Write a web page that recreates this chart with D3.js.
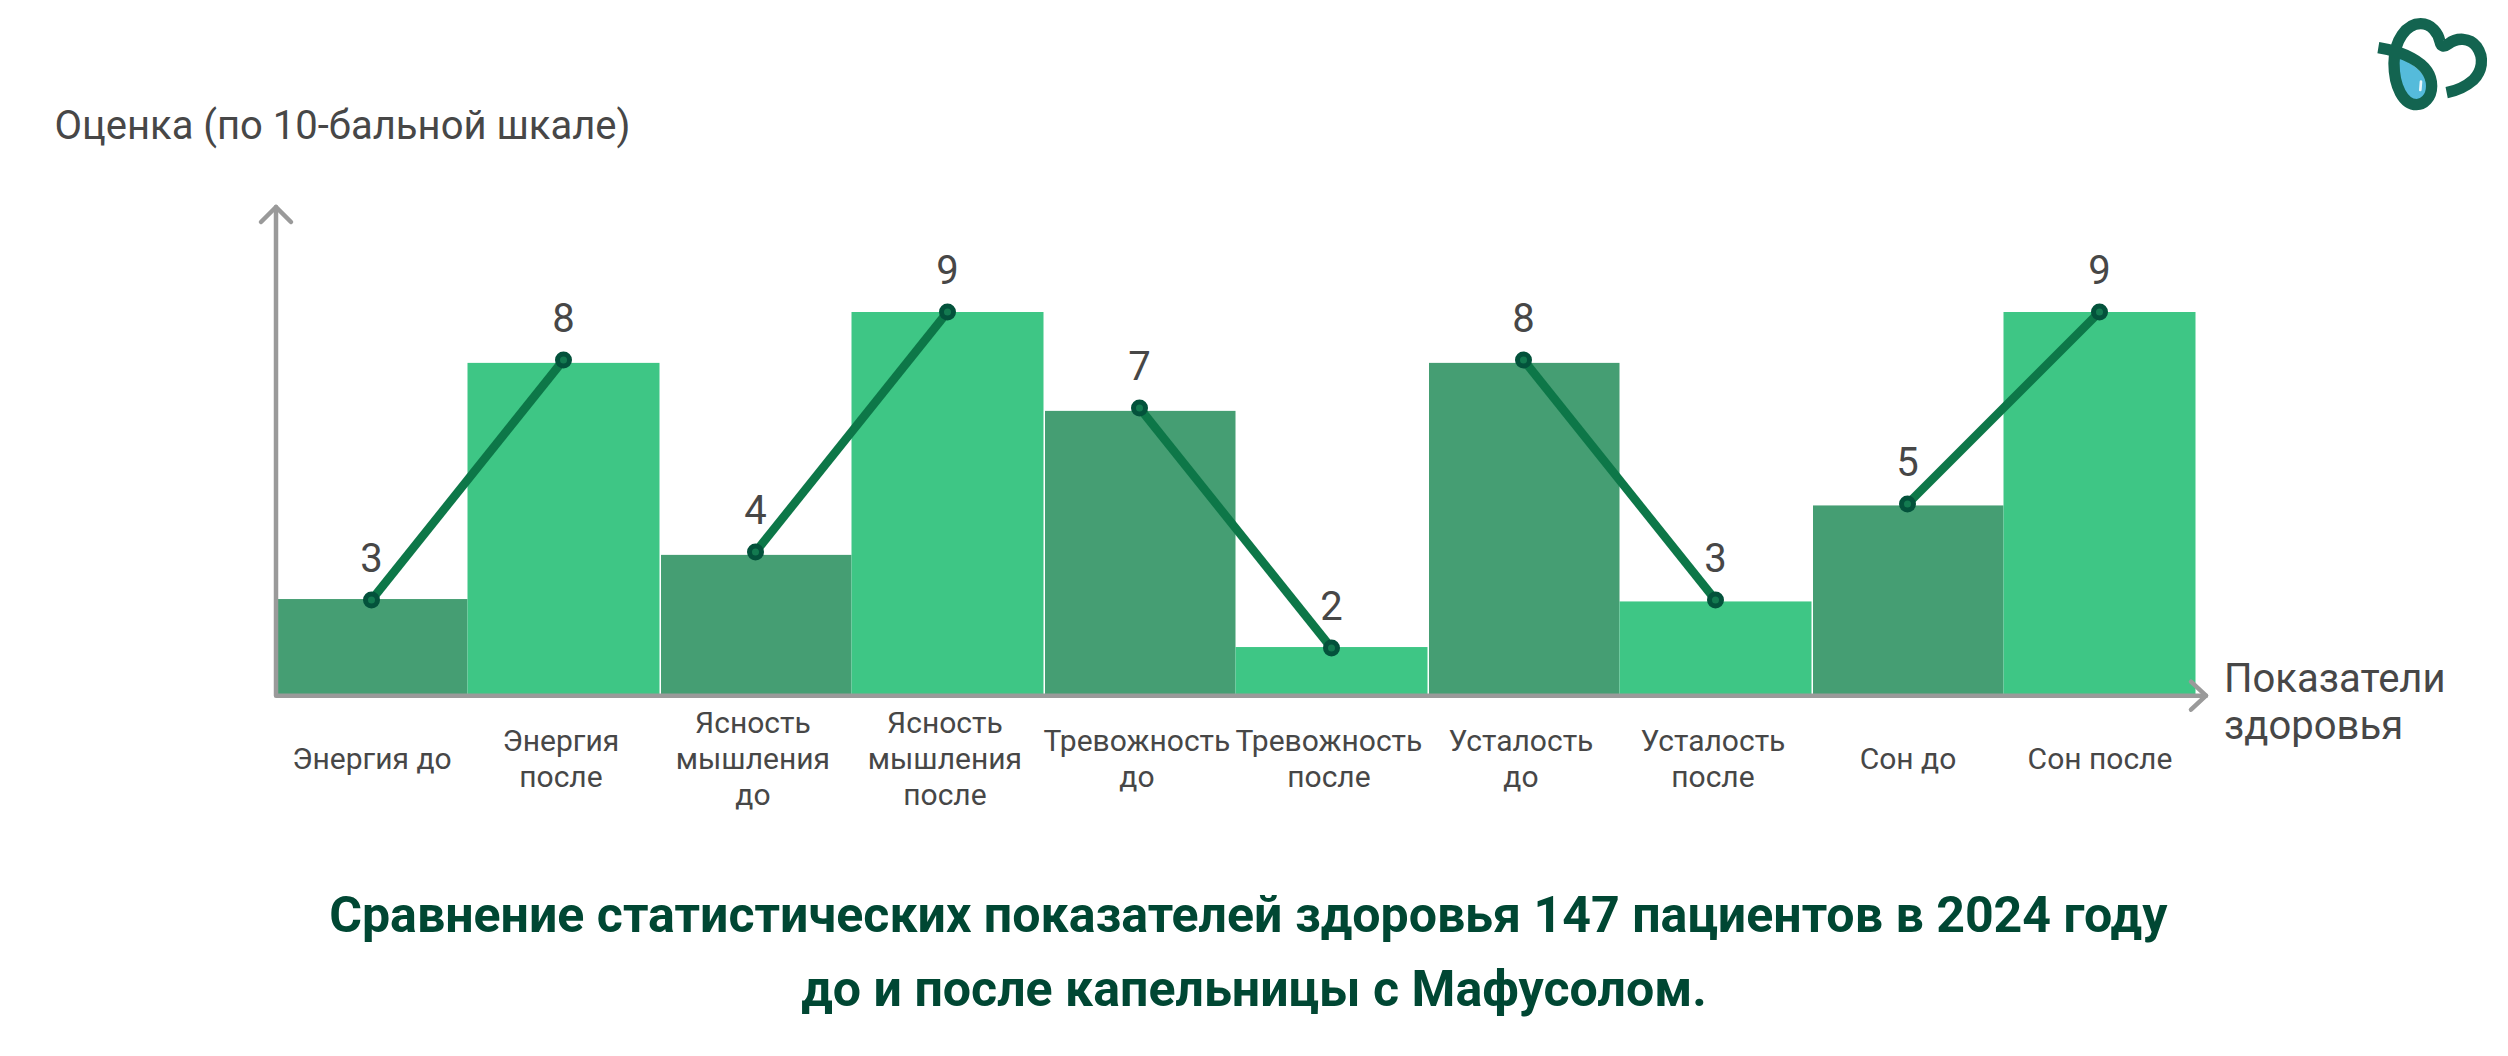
<!DOCTYPE html>
<html lang="ru">
<head>
<meta charset="utf-8">
<script src="https://cdnjs.cloudflare.com/ajax/libs/d3/7.8.5/d3.min.js"></script>
<style>
html,body{margin:0;padding:0;background:#fff;}
svg{display:block;}
text{font-family:Roboto,sans-serif;}
</style>
</head>
<body>
<svg id="c" width="2508" height="1056"></svg>
<script>
const categories = ["Энергия до","Энергия|после","Ясность|мышления|до","Ясность|мышления|после","Тревожность|до","Тревожность|после","Усталость|до","Усталость|после","Сон до","Сон после"];
const scores = [3,8,4,9,7,2,8,3,5,9];
const barTops = [3.02,7.94,3.94,9.0,6.94,2.02,7.94,2.97,4.97,9.0];
const phases = ["до","после","до","после","до","после","до","после","до","после"];
const pairs = [[0,1],[2,3],[4,5],[6,7],[8,9]];
const yAxisTitle = "Оценка (по 10-бальной шкале)";
const xAxisTitle = ["Показатели","здоровья"];
const titleLines = ["Сравнение статистических показателей здоровья 147 пациентов в 2024 году","до и после капельницы с Мафусолом."];

const W = 2508, H = 1056;
const svg = d3.select("#c");
const x = d3.scaleBand().domain(d3.range(categories.length)).range([275.5,2195.5]);
const y = d3.scaleLinear().domain([0,10]).range([744,264]);
const baseY = 694;
const color = d3.scaleOrdinal().domain(["до","после"]).range(["#459e73","#3ec685"]);
const textCol = "#474747", axisCol = "#9a9a9a";

// bars: a thin white gap separates each before/after pair from the next one
svg.append("g").selectAll("rect").data(barTops).join("rect")
  .attr("x",(d,i)=>x(i)+(i>0&&i%2===0?1.5:0))
  .attr("width",(d,i)=>x.bandwidth()-(i>0&&i%2===0?1.5:0))
  .attr("y",d=>y(d))
  .attr("height",d=>baseY-y(d))
  .attr("fill",(d,i)=>color(phases[i]));

// axes
const ax = svg.append("g").attr("fill","none").attr("stroke",axisCol).attr("stroke-width",4.5).attr("stroke-linecap","round").attr("stroke-linejoin","round");
const ax0 = 276, ay0 = 695.7, ayTop = 207, axEnd = 2206;
ax.append("path").attr("d",d3.line()([[ax0,ayTop],[ax0,ay0],[axEnd,ay0]]));
ax.append("path").attr("d",d3.line()([[ax0-15,ayTop+15],[ax0,ayTop],[ax0+15,ayTop+15]]));
ax.append("path").attr("d",d3.line()([[axEnd-15,ay0-14],[axEnd,ay0],[axEnd-15,ay0+14]]));

// connecting lines
const cx = i=>x(i)+x.bandwidth()/2;
const line = d3.line().x(i=>cx(i)).y(i=>y(scores[i]));
svg.append("g").selectAll("path").data(pairs).join("path")
  .attr("d",line).attr("fill","none").attr("stroke","#0d7748").attr("stroke-width",8.5);
svg.append("g").selectAll("circle").data(scores).join("circle")
  .attr("cx",(d,i)=>cx(i)).attr("cy",d=>y(d)).attr("r",6)
  .attr("fill","#137a50").attr("stroke","#03523b").attr("stroke-width",5);

// score labels
svg.append("g").selectAll("text").data(scores).join("text")
  .attr("x",(d,i)=>cx(i)).attr("y",d=>y(d)-28)
  .attr("text-anchor","middle").attr("font-size",40).attr("fill",textCol)
  .text(d=>d);

// category labels
const lh = 36, midBaseline = 769.3;
const cat = svg.append("g").selectAll("text").data(categories).join("text")
  .attr("text-anchor","middle").attr("font-size",30).attr("fill",textCol);
cat.each(function(d,i){
  const parts = d.split("|");
  d3.select(this).selectAll("tspan").data(parts).join("tspan")
    .attr("x",cx(i)+(parts.length>1?-2.6:0.5))
    .attr("y",(p,j)=>midBaseline+(j-(parts.length-1)/2)*lh)
    .text(p=>p);
});

// axis titles
svg.append("text").attr("x",54.5).attr("y",138.5).attr("font-size",40).attr("fill",textCol).text(yAxisTitle);
svg.append("g").selectAll("text").data(xAxisTitle).join("text")
  .attr("x",2224).attr("y",(d,i)=>691.7+i*47.6).attr("font-size",40).attr("fill",textCol).text(d=>d);

// title
svg.append("g").selectAll("text").data(titleLines).join("text")
  .attr("x",(d,i)=>i?1254:1248.3).attr("y",(d,i)=>931.5+i*74).attr("text-anchor","middle")
  .attr("font-size",50.1).attr("font-weight",700).attr("fill","#004733").text(d=>d);

// logo
const logo = svg.append("g").attr("transform","translate(2300,0) scale(0.3333)").attr("fill","none");
logo.append("path")
  .attr("d","M294,172 C335,188 382,222 382,258 C382,285 362,302 345,300 C318,294 296,250 294,172 Z")
  .attr("fill","#55bbdb").attr("stroke","none");
logo.append("path")
  .attr("d","M235,143 C290,152 395,180 395,258 C395,295 370,314 350,314 C310,314 282,260 282,190 C282,120 320,71 362,71 C395,71 415,100 420,125 C423,140 432,142 445,132 C470,112 510,112 530,140 C555,175 545,215 520,240 C495,262 470,272 440,278")
  .attr("stroke","#136450").attr("stroke-width",34);
logo.append("path").attr("d","M363,245 L361,270").attr("stroke","#e8f7fb").attr("stroke-width",8).attr("stroke-linecap","round");
</script>
</body>
</html>
